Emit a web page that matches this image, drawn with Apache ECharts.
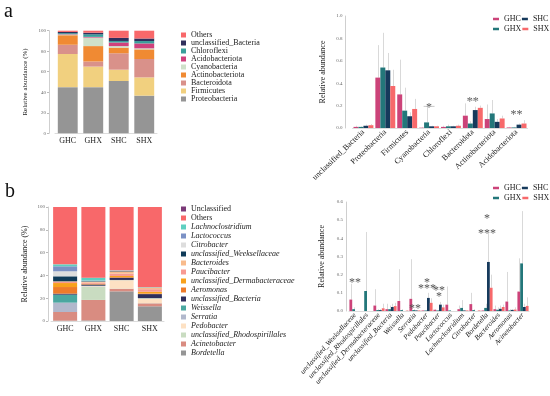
<!DOCTYPE html>
<html><head><meta charset="utf-8">
<script src="https://cdn.jsdelivr.net/npm/echarts@6/dist/echarts.min.js"></script>
<style>html,body{margin:0;padding:0;background:#fff}#c{width:550px;height:396px}</style>
</head><body><div id="c"></div>
<script>
const FONT = 'Liberation Serif';
const samples = ['GHC', 'GHX', 'SHC', 'SHX'];
const groupColors = ['#cc4379', '#23777a', '#163a5c', '#f7696b'];

// Panel a, stacked (bottom -> top)
const phylaStack = ['Proteobacteria', 'Firmicutes', 'Bacteroidota', 'Actinobacteriota', 'Cyanobacteria', 'Acidobacteriota', 'Chloroflexi', 'unclassified_Bacteria', 'Others'];
const phylaColors = ['#959595', '#f1d07f', '#d9918a', '#f08a33', '#cfe0c9', '#d0417c', '#3a9f9b', '#2f2f5c', '#f8686a'];
const stackA_GHC = [45, 32.3, 9, 9.3, 0.6, 0.4, 1, 1.2, 1.2];
const stackA_GHX = [45, 20, 5, 15, 8.3, 0.7, 2.5, 1.5, 2];
const stackA_SHC = [51, 11, 16, 5.5, 1.5, 3.5, 1.5, 3, 7];
const stackA_SHX = [36.7, 17.8, 17.9, 9.4, 1, 4.8, 2.3, 2.5, 7.6];

// Panel b, stacked (bottom -> top)
const genusStack = ['Bordetella', 'Acinetobacter', 'unclassified_Rhodospirillales', 'Pedobacter', 'Serratia', 'Weissella', 'unclassified_Bacteria', 'Aeromonas', 'unclassified_Dermabacteraceae', 'Paucibacter', 'Bacteroides', 'unclassified_Weeksellaceae', 'Citrobacter', 'Lactococcus', 'Lachnoclostridium', 'Others', 'Unclassified'];
const genusColors = ['#959595', '#d98c81', '#c9dcc1', '#fde1c3', '#b1b8cc', '#4aa7a0', '#2f2f5c', '#ee7b2a', '#f8a11c', '#f89a92', '#f8bb8c', '#0f3b59', '#dddddd', '#7b91c5', '#5fcfc0', '#f8686a', '#7b3a78'];
const genusItalic = [true, true, true, true, true, true, true, true, true, true, true, true, true, true, true, false, false];
const stackB_GHC = [0.3, 7.6, 0, 0, 8.2, 7, 0.9, 5.8, 3.5, 1, 0.5, 4.4, 4.4, 4.4, 1.7, 50.3, 0];
const stackB_GHX = [0.5, 18, 11.5, 0.5, 0.2, 0.3, 1, 0.3, 0.3, 1, 0.8, 0.5, 0.3, 0.3, 2.5, 62, 0];
const stackB_SHC = [26, 2.3, 0.2, 7.3, 0.1, 0.1, 2, 0.5, 1, 2, 2, 0.5, 0.3, 0.1, 0.1, 55.5, 0];
const stackB_SHX = [12.9, 2.6, 0.2, 4.1, 0.1, 0.2, 3.5, 0.5, 1.5, 2.3, 1.5, 0.1, 0.1, 0.1, 0.1, 70.2, 0];

// Panel a, grouped
const phylaBar = ['unclassified_Bacteria', 'Proteobacteria', 'Firmicutes', 'Cyanobacteria', 'Chloroflexi', 'Bacteroidota', 'Actinobacteriota', 'Acidobacteriota'];
const barA_GHC = [0.01, 0.45, 0.30, 0.003, 0.01, 0.11, 0.08, 0.005];
const barA_GHX = [0.01, 0.54, 0.155, 0.05, 0.015, 0.04, 0.13, 0.005];
const barA_SHC = [0.02, 0.515, 0.105, 0.015, 0.015, 0.16, 0.055, 0.03];
const barA_SHX = [0.025, 0.375, 0.17, 0.015, 0.02, 0.18, 0.085, 0.04];
const errA_GHC = [0.02, 0.74, 0.61, 0.01, 0.02, 0.22, 0.21, 0.01];
const errA_GHX = [0.015, 0.85, 0.36, 0.2, 0.03, 0.06, 0.25, 0.01];
const errA_SHC = [0.03, 0.67, 0.14, 0.02, 0.02, 0.19, 0.08, 0.04];
const errA_SHX = [0.035, 0.52, 0.26, 0.02, 0.03, 0.20, 0.11, 0.07];
const sigA = [['Cyanobacteria', 0.215, '*', 0.193], ['Bacteroidota', 0.27, '**', 0.25], ['Acidobacteriota', 0.148, '**', null]];

// Panel b, grouped
const genusBar = ['unclassified_Weeksellaceae', 'unclassified_Rhodospirillales', 'unclassified_Dermabacteraceae', 'unclassified_Bacteria', 'Weissella', 'Serratia', 'Pedobacter', 'Paucibacter', 'Lactococcus', 'Lachnoclostridium', 'Citrobacter', 'Bordetella', 'Bacteroides', 'Aeromonas', 'Acinetobacter'];
const barB_GHC = [0.063, 0, 0.03, 0.01, 0.055, 0.067, 0.003, 0.007, 0.035, 0.01, 0.038, 0.003, 0.01, 0.052, 0.107];
const barB_GHX = [0.01, 0.11, 0.005, 0.01, 0.005, 0.005, 0.003, 0.003, 0.003, 0.017, 0.005, 0.017, 0.007, 0.003, 0.262];
const barB_SHC = [0, 0, 0.005, 0.022, 0, 0.003, 0.072, 0.035, 0, 0.003, 0, 0.27, 0.012, 0.006, 0.022];
const barB_SHX = [0, 0, 0.015, 0.027, 0.002, 0.003, 0.045, 0.02, 0, 0.003, 0.003, 0.128, 0.022, 0.008, 0.028];
const errB_GHC = [0.15, 0, 0.12, 0.04, 0.23, 0.285, 0.005, 0.01, 0.135, 0.03, 0.1, 0.005, 0.03, 0.215, 0.29];
const errB_GHX = [0.02, 0.435, 0.01, 0.03, 0.01, 0.01, 0.005, 0.005, 0.005, 0.06, 0.01, 0.04, 0.02, 0.01, 0.55];
const errB_SHC = [0, 0, 0.01, 0.04, 0, 0.005, 0.1, 0.05, 0, 0.005, 0, 0.43, 0.03, 0.01, 0.04];
const errB_SHX = [0, 0, 0.04, 0.045, 0.005, 0.005, 0.07, 0.035, 0, 0.005, 0.005, 0.2, 0.035, 0.02, 0.075];
const sigB = [['unclassified_Weeksellaceae', 0.175, '**'], ['Serratia', 0.03, '**'], ['Pedobacter', 0.143, '***'], ['Pedobacter', 0.175, '*'], ['Paucibacter', 0.13, '**'], ['Paucibacter', 0.097, '*'], ['Bordetella', 0.445, '***'], ['Bordetella', 0.527, '*']];

const stackA = [stackA_GHC, stackA_GHX, stackA_SHC, stackA_SHX];
const stackB = [stackB_GHC, stackB_GHX, stackB_SHC, stackB_SHX];
const barA = [barA_GHC, barA_GHX, barA_SHC, barA_SHX];
const errA = [errA_GHC, errA_GHX, errA_SHC, errA_SHX];
const barB = [barB_GHC, barB_GHX, barB_SHC, barB_SHX];
const errB = [errB_GHC, errB_GHX, errB_SHC, errB_SHX];

const GAP_A = 0.09, GAP_B = 0.07;
const series = [];
phylaStack.forEach((n, j) => series.push({
  type: 'bar', name: n, stack: 'a', xAxisIndex: 0, yAxisIndex: 0, barCategoryGap: '22%',
  itemStyle: {color: phylaColors[j]}, data: stackA.map(s => s[j])
}));
genusStack.forEach((n, j) => series.push({
  type: 'bar', name: n, stack: 'b', xAxisIndex: 2, yAxisIndex: 2, barCategoryGap: '15%',
  itemStyle: {color: genusColors[j]}, data: stackB.map(s => s[j])
}));
samples.forEach((n, k) => series.push({
  type: 'bar', name: n, xAxisIndex: 1, yAxisIndex: 1, barGap: '0%', barCategoryGap: (GAP_A * 100) + '%',
  itemStyle: {color: groupColors[k]}, data: barA[k]
}));
samples.forEach((n, k) => series.push({
  type: 'bar', name: n, xAxisIndex: 3, yAxisIndex: 3, barGap: '0%', barCategoryGap: (GAP_B * 100) + '%',
  itemStyle: {color: groupColors[k]}, data: barB[k]
}));

function errSeries(ai, vals, errs, gap) {
  const data = [];
  vals.forEach((arr, k) => arr.forEach((v, i) => { if (errs[k][i] > v) data.push([i, errs[k][i], v, k]); }));
  return {
    type: 'custom', xAxisIndex: ai, yAxisIndex: ai, silent: true, z: 1, data: data, encode: {x: 0, y: [1, 2]},
    renderItem: function (params, api) {
      const i = api.value(0), top = api.value(1), base = api.value(2), k = api.value(3);
      const band = api.size([1, 0])[0];
      const bw = band * (1 - gap) / 4;
      const p1 = api.coord([i, base]), p2 = api.coord([i, top]);
      const x = Math.round(p1[0] + (k - 1.5) * bw) + 0.5;
      return {type: 'line', shape: {x1: x, y1: p1[1], x2: x, y2: p2[1]}, style: {stroke: '#d9d9d9', lineWidth: 1}};
    }
  };
}
function sigSeries(ai, cats, sig, fs, dx) {
  const data = sig.map(s => [cats.indexOf(s[0]), s[1], s[3] == null ? -1 : s[3]]);
  return {
    type: 'custom', xAxisIndex: ai, yAxisIndex: ai, silent: true, z: 5, data: data, encode: {x: 0, y: 1},
    renderItem: function (params, api) {
      const i = api.value(0), y = api.value(1), l = api.value(2);
      const txt = sig[params.dataIndex][2];
      const band = api.size([1, 0])[0];
      const p = api.coord([i, y]);
      const children = [{type: 'text', x: p[0] + dx, y: p[1] + fs * 0.3,
        style: {text: txt, font: fs + 'px ' + FONT, fill: '#555', align: 'center', verticalAlign: 'middle'}}];
      if (l >= 0) {
        const pl = api.coord([i, l]);
        children.push({type: 'line', shape: {x1: p[0] - band * 0.25, y1: pl[1], x2: p[0] + band * 0.25, y2: pl[1]},
          style: {stroke: '#bbb', lineWidth: 0.8}});
      }
      return {type: 'group', children: children};
    }
  };
}
series.push(errSeries(1, barA, errA, GAP_A));
series.push(errSeries(3, barB, errB, GAP_B));
series.push(sigSeries(1, phylaBar, sigA, 12, 0));
series.push(sigSeries(3, genusBar, sigB, 12, 0));

const tickLbl = {fontSize: 5, color: '#666', fontFamily: FONT, margin: 3};
const lineGrey = {lineStyle: {color: '#cfcfcf', width: 1}};
function yAx(gi, max, interval, offset, name, nameSize, nameGap, dec, ticks) {
  return {type: 'value', gridIndex: gi, min: 0, max: max, interval: interval, offset: offset,
    axisLine: Object.assign({show: true}, lineGrey), axisTick: {show: ticks, length: 2, lineStyle: {color: '#bbb'}},
    splitLine: {show: false},
    axisLabel: Object.assign({formatter: v => dec ? v.toFixed(1) : String(v)}, tickLbl),
    name: name, nameLocation: 'middle', nameGap: nameGap,
    nameTextStyle: {fontSize: nameSize, fontFamily: FONT, color: '#222'}};
}
function xAx(gi, cats, rotate, italic, margin, fs) {
  return {type: 'category', gridIndex: gi, data: cats,
    axisLine: {show: true, lineStyle: {color: '#dcdcdc'}}, axisTick: {show: false},
    axisLabel: {fontSize: fs, color: '#222', fontFamily: FONT, rotate: rotate, interval: 0, margin: margin,
      fontStyle: italic ? 'italic' : 'normal'}};
}

const legStackA = {orient: 'vertical', left: 181, top: 31, padding: 0, itemWidth: 5, itemHeight: 5, itemGap: 0,
  icon: 'rect', selectedMode: false,
  textStyle: {fontSize: 8, fontFamily: FONT, color: '#222', lineHeight: 8},
  data: phylaStack.slice().reverse()};
const legStackB = {orient: 'vertical', left: 181, top: 204.5, padding: 0, itemWidth: 5, itemHeight: 5, itemGap: 0,
  icon: 'rect', selectedMode: false,
  textStyle: {fontSize: 8, fontFamily: FONT, color: '#222', lineHeight: 9},
  data: genusStack.map((n, j) => ({name: n, textStyle: {fontStyle: genusItalic[j] ? 'italic' : 'normal'}})).reverse()};
function legGroup(top, names) {
  return {orient: 'horizontal', left: 493, top: top, width: 60, padding: 0, itemWidth: 6, itemHeight: 2.5, itemGap: 1,
    icon: 'rect', selectedMode: false,
    textStyle: {fontSize: 8, fontFamily: FONT, color: '#222'}, data: names};
}

const option = {
  animation: false,
  backgroundColor: '#fff',
  textStyle: {fontFamily: FONT},
  grid: [
    {left: 55, top: 30.7, width: 102, height: 102.6},
    {left: 352.5, top: 16, width: 175, height: 112},
    {left: 51, top: 207, width: 113, height: 114},
    {left: 349, top: 202, width: 180, height: 109}
  ],
  xAxis: [
    xAx(0, samples, 0, false, 4, 8),
    xAx(1, phylaBar, 44, false, 3, 8),
    xAx(2, samples, 0, false, 4, 8),
    xAx(3, genusBar, 48, true, 3, 7.2)
  ],
  yAxis: [
    yAx(0, 100, 20, 6, 'Relative abundance (%)', 7, 20, false, true),
    yAx(1, 1, 0.2, 7, 'Relative abundance', 8, 19, true, false),
    yAx(2, 100, 20, 3, 'Relative abundance (%)', 8, 19, false, true),
    yAx(3, 0.6, 0.1, 3, 'Relative abundance', 8, 20, true, false)
  ],
  legend: [legStackA, legStackB, legGroup(15, ['GHC', 'SHC']), legGroup(25, ['GHX', 'SHX']),
    legGroup(184, ['GHC', 'SHC']), legGroup(194, ['GHX', 'SHX'])],
  graphic: [
    {type: 'text', left: 4, top: 2, style: {text: 'a', font: '20px ' + FONT, fill: '#111'}},
    {type: 'text', left: 5, top: 182, style: {text: 'b', font: '20px ' + FONT, fill: '#111'}}
  ],
  series: series
};
const chart = echarts.init(document.getElementById('c'), null, {renderer: 'canvas'});
chart.setOption(option);
</script></body></html>
